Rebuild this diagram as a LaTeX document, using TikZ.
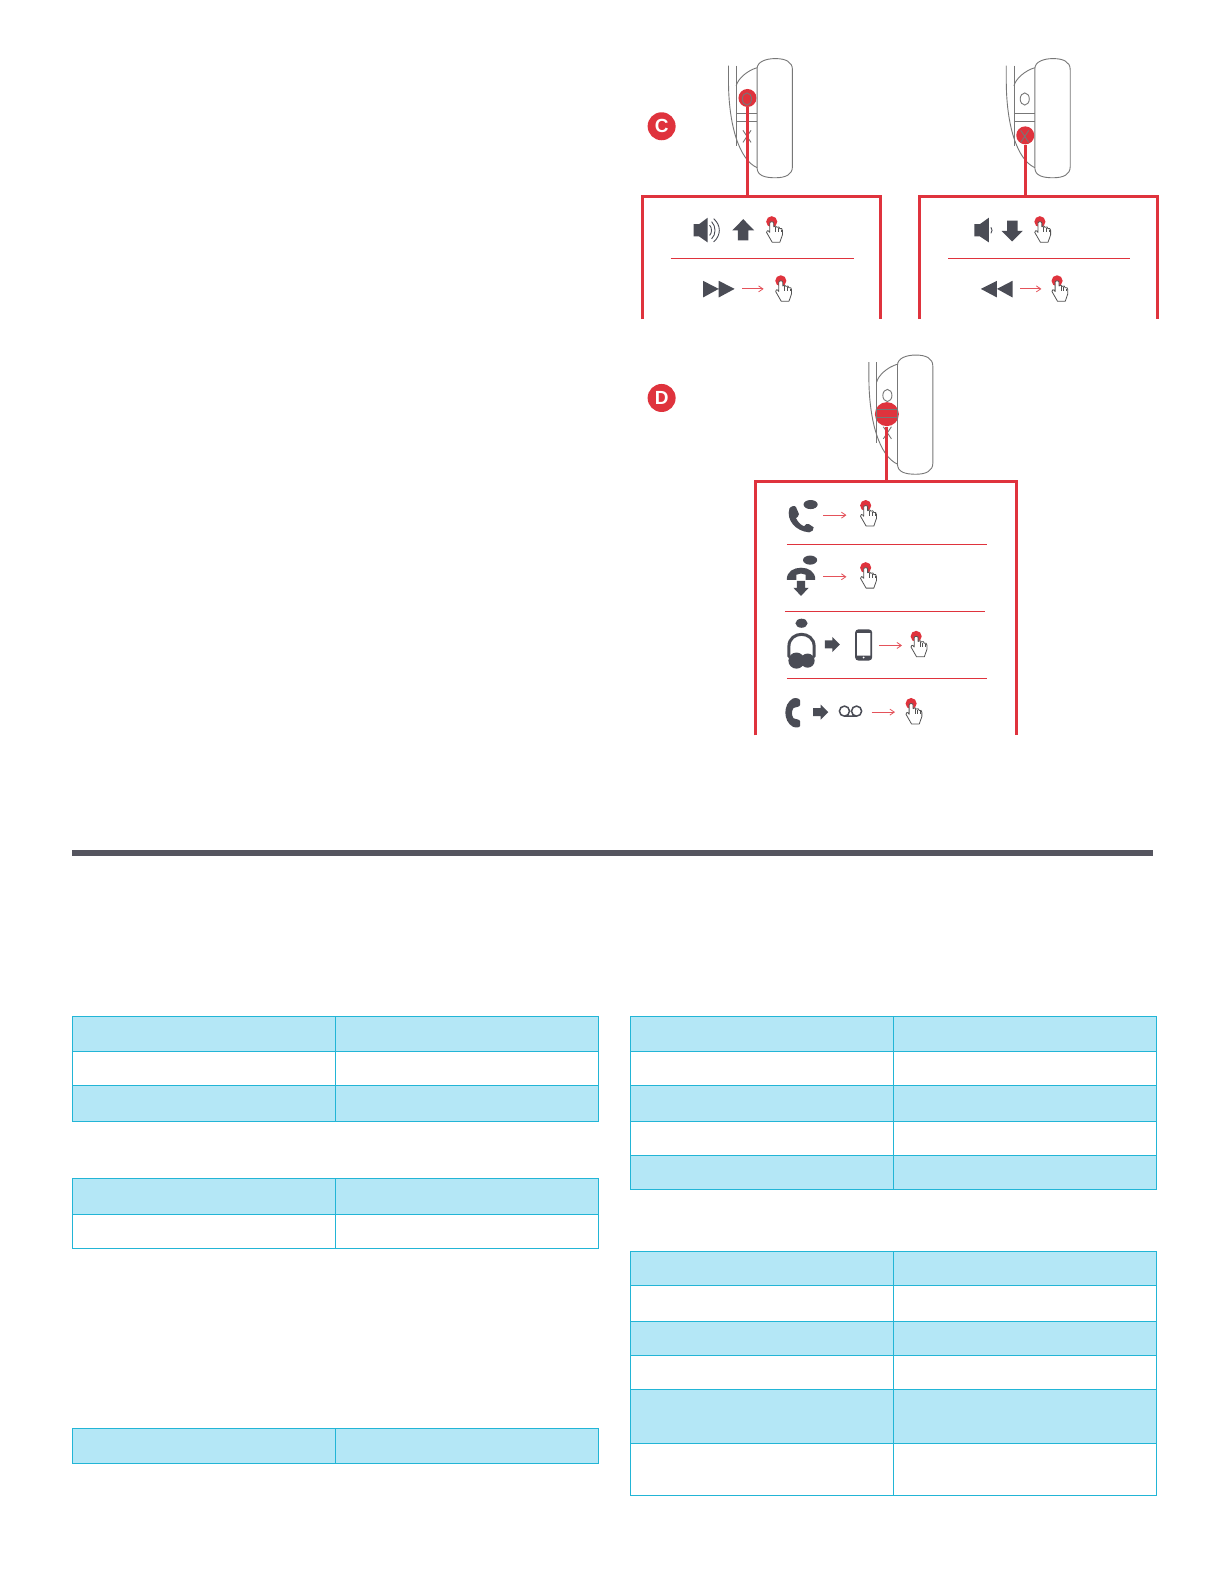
\documentclass[tikz,border=0pt]{standalone}
\usepackage{fontspec}
\setmainfont{Liberation Sans}
\usetikzlibrary{arrows.meta}
\definecolor{redm}{HTML}{DF333D}
\definecolor{darkm}{HTML}{4A4C55}
\definecolor{linem}{HTML}{777777}
\definecolor{rulem}{HTML}{55555F}
\definecolor{tfill}{HTML}{B4E7F6}
\definecolor{tline}{HTML}{22B5D6}
\tikzset{
  earline/.style={draw=linem,line width=0.45pt},
  redbox/.style={draw=redm,line width=1.5pt},
  redlink/.style={draw=redm,line width=1.5pt},
  reddot/.style={circle,fill=redm,inner sep=0pt,minimum size=#1},
  badge/.style={circle,fill=redm,inner sep=0pt,minimum size=14pt,text=white,font=\bfseries\fontsize{9.5}{10}\selectfont},
  divider/.style={draw=redm,line width=0.5pt},
  thinarrow/.style={draw=redm!85!white,line width=0.4pt,-{Straight Barb[length=2.2pt,width=3pt,line width=0.4pt]}},
  iconline/.style={draw=darkm,line cap=round},
  handline/.style={draw=linem!70!black,line width=0.4pt,fill=white,line join=round},
  tcell/.style={draw=tline,line width=0.5pt},
}
\newcommand{\earph}[2]{%
  \begin{scope}[shift={(#1,#2)}]
    \draw[earline] (-18.3,-33) -- (-18.3,-18) .. controls (-18.3,25) and (-8,60) .. (10,68);
    \draw[earline] (-10.7,-33) -- (-10.7,47);
    \draw[earline] (-10.7,-13) .. controls (-9,-20) and (0,-28) .. (10,-31);
    \draw[earline] (10,-30) .. controls (10,-37) and (19,-40) .. (28,-40) .. controls (38,-40) and (45,-37) .. (45,-29) -- (45,67) .. controls (45,75) and (38,78) .. (28,78) .. controls (18,78) and (10,76) .. (10,68) -- cycle;
    \draw[earline] (-10.7,14) -- (10,14) (-10.7,22) -- (10,22);
    \draw[earline] (0,0) ellipse [x radius=4.5,y radius=6];
    \draw[earline] (-4,31) -- (4,43) (4,31) -- (-4,43);
  \end{scope}}
\newcommand{\handicon}[2]{%
  \begin{scope}[shift={(#1,#2)}]
    \fill[redm] (0,0) circle [radius=5.5];
    \begin{scope}[xscale=0.85,yscale=0.92]
    \draw[handline] (-2.3,1.5) .. controls (-2.3,-0.5) and (2.3,-0.5) .. (2.3,1.5) -- (2.3,5.5)
      .. controls (3.5,4) and (6,4.5) .. (6,6) .. controls (7.5,5) and (9.5,5.5) .. (9.5,7.5)
      .. controls (11,6.5) and (12.5,7.5) .. (12.5,9.5) -- (12.5,14) -- (9.5,22) -- (0.5,22)
      -- (-6,11.5) .. controls (-6.5,9.5) and (-4,8.5) .. (-2.3,11.5) -- cycle;
    \draw[handline] (4.5,6) -- (4.5,11) (7.8,7) -- (7.8,11) (10.8,8.5) -- (10.8,11.5);
    \end{scope}
  \end{scope}}
\newcommand{\blockarrow}[2]{%
  \fill[darkm] (#1,#2) ++(0,-4) -- ++(7.5,0) -- ++(0,-3.5) -- ++(7.5,7.5) -- ++(-7.5,7.5) -- ++(0,-3.5) -- ++(-7.5,0) -- cycle;}
\newcommand{\bubble}[4]{\fill[darkm] (#1,#2) ellipse [x radius=#3,y radius=#4];}
\newcommand{\tablerows}[4]{%
  \foreach \ya/\yb/\col in {#4}{
    \path[fill=\col] (#1,\ya) rectangle (#3,\yb);
    \draw[tcell] (#1,\ya) rectangle (#2,\yb);
    \draw[tcell] (#2,\ya) rectangle (#3,\yb);
  }}
\begin{document}
\begin{tikzpicture}[x=0.50505pt,y=-0.50505pt]
\useasboundingbox[fill=white] (0,0) rectangle (1211.76,1568.16);

% badges
\node[badge] (badgeC) at (655,125) {C};
\node[badge] (badgeD) at (655,394) {D};

% ---- panel C left
\node[reddot=9pt] (dotA) at (740,97) {};
\earph{739.5}{98}
\coordinate (boxAtop) at (740,195);
\draw[redlink] (dotA) -- (boxAtop);
\coordinate (boxAbl) at (636,316); \coordinate (boxAtl) at (636,195);
\coordinate (boxAtr) at (872,195); \coordinate (boxAbr) at (872,316);
\draw[redbox] (boxAbl) -- (boxAtl) -- (boxAtr) -- (boxAbr);
\fill[darkm] (686.6,222) -- (692,222) -- (700.6,215.5) -- (700.6,240) -- (692,234) -- (686.6,234) -- cycle;
\draw[darkm,line width=0.45pt] (702.5,223) .. controls (705,225) and (705,231) .. (702.5,233)
  (704.5,219.5) .. controls (709,224) and (709,232) .. (704.5,236.5)
  (706.5,216.5) .. controls (714,223) and (714,233) .. (706.5,239.5);
\fill[darkm] (735.8,217) -- (746.6,228) -- (741,228) -- (741,238) -- (730.5,238) -- (730.5,228) -- (725,228) -- cycle;
\handicon{764}{219.5}
\coordinate (divAa) at (664,256); \coordinate (divAb) at (845,256);
\draw[divider] (divAa) -- (divAb);
\fill[darkm] (696,278) -- (711.5,286) -- (696,294.5) -- cycle (711.5,278) -- (727.3,286) -- (711.5,294.5) -- cycle;
\coordinate (arrAa) at (735,286); \coordinate (arrAb) at (756,286);
\draw[thinarrow] (arrAa) -- (arrAb);
\handicon{773}{278}

% ---- panel C right
\node[reddot=9pt] (dotB) at (1015,134) {};
\earph{1014.5}{98}
\coordinate (boxBtop) at (1015,195);
\draw[redlink] (dotB) -- (boxBtop);
\coordinate (boxBbl) at (910,316); \coordinate (boxBtl) at (910,195);
\coordinate (boxBtr) at (1146,195); \coordinate (boxBbr) at (1146,316);
\draw[redbox] (boxBbl) -- (boxBtl) -- (boxBtr) -- (boxBbr);
\fill[darkm] (964.7,222) -- (970,222) -- (979,215.5) -- (979,240) -- (970,234) -- (964.7,234) -- cycle;
\draw[darkm,line width=0.45pt] (981,225) .. controls (982.5,226.5) and (982.5,229.5) .. (981,231);
\fill[darkm] (1002,239) -- (991.5,228.5) -- (997,228.5) -- (997,218.5) -- (1007.5,218.5) -- (1007.5,228.5) -- (1012.7,228.5) -- cycle;
\handicon{1029.5}{219.5}
\coordinate (divBa) at (939,256); \coordinate (divBb) at (1119,256);
\draw[divider] (divBa) -- (divBb);
\fill[darkm] (987,278) -- (971,286) -- (987,294.5) -- cycle (1002.4,278) -- (987,286) -- (1002.4,294.5) -- cycle;
\coordinate (arrBa) at (1010,286); \coordinate (arrBb) at (1031,286);
\draw[thinarrow] (arrBa) -- (arrBb);
\handicon{1046.5}{278}

% ---- panel D
\node[reddot=12pt] (dotC) at (878,410) {};
\earph{878.5}{391.5}
\coordinate (boxCtop) at (878,477);
\draw[redlink] (dotC) -- (boxCtop);
\coordinate (boxCbl) at (748,728); \coordinate (boxCtl) at (748,477);
\coordinate (boxCtr) at (1006,477); \coordinate (boxCbr) at (1006,728);
\draw[redbox] (boxCbl) -- (boxCtl) -- (boxCtr) -- (boxCbr);
% row 1
\fill[darkm] (781.5,503.5) .. controls (783,501) and (787,500) .. (788,502) -- (791,509) .. controls (791,511) and (789,512) .. (788,513) .. controls (790,517) and (793,520) .. (796,521) .. controls (797,519) and (799,518) .. (801,519) -- (805.5,522) .. controls (806,524) and (804,527) .. (801,527) .. controls (788,526) and (778,515) .. (781.5,503.5) -- cycle;
\bubble{802.5}{499.5}{7}{4.5}
\coordinate (arrCa) at (815,510); \coordinate (arrCb) at (838,510);
\draw[thinarrow] (arrCa) -- (arrCb);
\handicon{857}{500.5}
\coordinate (divCa) at (779,539); \coordinate (divCb) at (977,539);
\draw[divider] (divCa) -- (divCb);
% row 2
\fill[darkm] (779,574) .. controls (778,558) and (808,558) .. (807,574) -- (797.5,574) -- (797.5,569) .. controls (793,567.5) and (793,567.5) .. (788.5,569) -- (788.5,574) -- cycle;
\fill[darkm] (789,575) -- (797,575) -- (797,582) -- (800.5,582) -- (793,590) -- (785.5,582) -- (789,582) -- cycle;
\bubble{802}{554.5}{7}{4.5}
\coordinate (arrDa) at (815,571); \coordinate (arrDb) at (838,571);
\draw[thinarrow] (arrDa) -- (arrDb);
\handicon{857}{562}
\coordinate (divDa) at (777,605); \coordinate (divDb) at (975,605);
\draw[divider] (divDa) -- (divDb);
% row 3
\bubble{793.5}{617}{6}{4.5}
\draw[iconline,line width=1.5pt] (781,650) -- (781,640) .. controls (781,624) and (806,624) .. (806,640) -- (806,650);
\fill[darkm] (788.5,654) circle [radius=8] (799.5,654) circle [radius=7];
\blockarrow{816.5}{638}
\draw[darkm,line width=0.9pt,fill=white,rounded corners=1.2pt] (847.5,624) rectangle (862.5,653);
\fill[darkm] (847.5,624) rectangle (862.5,626.5) (847.5,649) rectangle (862.5,653);
\fill[white] (855,651) circle [radius=1];
\coordinate (arrEa) at (870,639); \coordinate (arrEb) at (893,639);
\draw[thinarrow] (arrEa) -- (arrEb);
\handicon{907}{630}
\coordinate (divEa) at (779,672); \coordinate (divEb) at (977,672);
\draw[divider] (divEa) -- (divEb);
% row 4
\fill[darkm] (785,691.5) .. controls (788,690.5) and (792,691.5) .. (792,693.5) -- (792,698) .. controls (792,700) and (787,700) .. (785.5,701) .. controls (783.5,704) and (783.5,708) .. (785.5,711) .. controls (787,712) and (792,712) .. (792,714) -- (792,718.5) .. controls (792,720.5) and (788,720.5) .. (785,719.5) .. controls (775,714) and (775,697) .. (785,691.5) -- cycle;
\blockarrow{805}{705}
\draw[darkm,line width=0.75pt] (836,704) circle [radius=5] (848,704) circle [radius=5] (836,709) -- (848,709);
\coordinate (arrFa) at (863,705); \coordinate (arrFb) at (886,705);
\draw[thinarrow] (arrFa) -- (arrFb);
\handicon{902}{696.5}

% ---- rule
\fill[rulem] (71,841) rectangle (1141,847);

% ---- tables
\tablerows{72}{332}{593}{1006/1041/tfill,1041/1075/white,1075/1110/tfill}
\tablerows{72}{332}{593}{1167/1202/tfill,1202/1236/white}
\tablerows{72}{332}{593}{1414/1449/tfill}
\tablerows{624}{885}{1145}{1006/1041/tfill,1041/1075/white,1075/1110/tfill,1110/1144/white,1144/1178/tfill}
\tablerows{624}{885}{1145}{1239/1273/tfill,1273/1308/white,1308/1342/tfill,1342/1376/white,1376/1429/tfill,1429/1481/white}
\end{tikzpicture}
\end{document}
